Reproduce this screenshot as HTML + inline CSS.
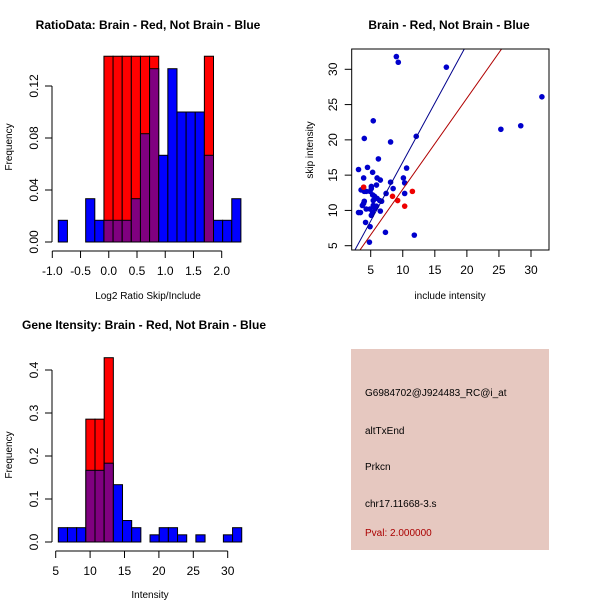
<!DOCTYPE html>
<html><head><meta charset="utf-8"><style>
html,body{margin:0;padding:0;background:#fff;}
svg{display:block;font-family:"Liberation Sans",Arial,sans-serif;}
</style></head><body>
<svg id="c" width="600" height="600" xmlns="http://www.w3.org/2000/svg">
<rect width="600" height="600" fill="#fff"/>
<text x="148" y="29" text-anchor="middle" font-size="12" font-weight="bold">RatioData: Brain - Red, Not Brain - Blue</text>
<text x="449" y="29" text-anchor="middle" font-size="12" font-weight="bold">Brain - Red, Not Brain - Blue</text>
<text x="144" y="329" text-anchor="middle" font-size="12" font-weight="bold">Gene Itensity: Brain - Red, Not Brain - Blue</text>
<text x="148" y="299" text-anchor="middle" font-size="10">Log2 Ratio Skip/Include</text>
<text x="150" y="598" text-anchor="middle" font-size="10">Intensity</text>
<text x="450" y="299" text-anchor="middle" font-size="10">include intensity</text>
<text transform="translate(12,147) rotate(-90)" text-anchor="middle" font-size="10">Frequency</text>
<text transform="translate(12,455) rotate(-90)" text-anchor="middle" font-size="10">Frequency</text>
<text transform="translate(313,150) rotate(-90)" text-anchor="middle" font-size="10">skip intensity</text>
<g>
<rect x="351" y="349" width="198" height="201" fill="#e6c8c0"/>
<text x="365" y="396" font-size="10">G6984702@J924483_RC@i_at</text>
<text x="365" y="434" font-size="10">altTxEnd</text>
<text x="365" y="470" font-size="10">Prkcn</text>
<text x="365" y="507" font-size="10">chr17.11668-3.s</text>
<text x="365" y="536" font-size="10" fill="#aa0000">Pval: 2.000000</text>
</g>
</svg>
<script>
// ---- Ratio histogram data ----
const ratioBinStart = -0.894;
const ratioBinWidth = 0.1617;
const ratioBlue = [0.0167,0,0,0.0333,0.0167,0.0167,0.0167,0.0167,0.0333,0.0833,0.1333,0.0667,0.1333,0.1,0.1,0.1,0.0667,0.0167,0.0167,0.0333];
const ratioRed  = [0,0,0,0,0,0.1429,0.1429,0.1429,0.1429,0.1429,0.1429,0,0,0,0,0,0.1429,0,0,0];
const ratioXTicks = [-1.0,-0.5,0.0,0.5,1.0,1.5,2.0];
const ratioXTickLabels = ["-1.0","-0.5","0.0","0.5","1.0","1.5","2.0"];
const ratioYTicks = [0,0.04,0.08,0.12];
const ratioYTickLabels = ["0.00","0.04","0.08","0.12"];
// ---- Intensity histogram data ----
const intBinStart = 5.38;
const intBinWidth = 1.333;
const intBlue = [0.0333,0.0333,0.0333,0.1667,0.1667,0.1833,0.1333,0.05,0.0333,0,0.0167,0.0333,0.0333,0.0167,0,0.0167,0,0,0.0167,0.0333];
const intRed  = [0,0,0,0.2857,0.2857,0.4286,0,0,0,0,0,0,0,0,0,0,0,0,0,0];
const intXTicks = [5,10,15,20,25,30];
const intXTickLabels = ["5","10","15","20","25","30"];
const intYTicks = [0,0.1,0.2,0.3,0.4];
const intYTickLabels = ["0.0","0.1","0.2","0.3","0.4"];
// ---- Scatter data ----
const blueX = [9.0,9.3,16.8,31.7,25.3,28.4,5.4,4.0,8.1,12.1,6.2,3.1,4.5,5.3,10.6,3.9,6.0,6.5,10.1,10.3,8.1,5.9,5.1,5.1,8.5,3.5,4.0,4.3,4.9,7.4,10.3,5.3,5.6,6.0,5.4,6.4,6.7,4.0,3.9,3.7,5.4,5.9,5.7,4.3,4.9,3.1,3.4,5.3,5.1,6.5,4.2,4.9,7.3,11.8,4.8];
const blueY = [31.8,31.0,30.3,26.1,21.5,22.0,22.7,20.2,19.7,20.5,17.3,15.8,16.1,15.4,16.0,14.6,14.6,14.3,14.6,13.9,14.0,13.6,13.4,13.1,13.1,12.9,12.7,12.7,12.7,12.4,12.4,12.2,12.0,11.7,11.4,11.4,11.3,11.3,11.0,10.7,10.7,10.6,10.3,10.2,10.2,9.7,9.7,9.7,9.3,9.9,8.3,7.7,6.9,6.5,5.5];
const redX = [3.9,8.4,9.2,11.5,10.3];
const redY = [13.3,12.0,11.4,12.7,10.6];
const blueFit = [0.15,1.67]; // intercept, slope
const redFit = [0.1,1.29];
const scatXTicks = [5,10,15,20,25,30];
const scatXTickLabels = ["5","10","15","20","25","30"];
const scatYTicks = [5,10,15,20,25,30];
const scatYTickLabels = ["5","10","15","20","25","30"];

const NS = "http://www.w3.org/2000/svg";
const svg = document.getElementById('c');
function mk(tag, attrs, parent){
  const e = document.createElementNS(NS, tag);
  for (const k in attrs) e.setAttribute(k, attrs[k]);
  (parent||svg).appendChild(e);
  return e;
}
function linear(d0,d1,r0,r1){ return v => r0 + (v-d0)/(d1-d0)*(r1-r0); }

function histogram(prefix, blue, red, start, width, sx, sy, xTicks, xLab, yTicks, yLab, axisY, axisX){
  const g = mk('g', {});
  
  
  for (let i = 0; i < blue.length; i++){
    const x0 = sx(start + i*width), x1 = sx(start + (i+1)*width);
    const b = blue[i], r = red[i];
    const hi = Math.max(b, r), lo = Math.min(b, r);
    if (hi <= 0) continue;
    const topColor = r > b ? '#ff0000' : '#0000ff';
    const bar = mk('rect', {x:x0, y:sy(hi), width:x1-x0, height:sy(0)-sy(hi), fill: topColor, stroke:'#000', 'stroke-width':1}, g);
    
    
    if (lo > 0){
      const p = mk('rect', {x:x0, y:sy(lo), width:x1-x0, height:sy(0)-sy(lo), fill:'#800080', stroke:'#000', 'stroke-width':1}, g);
      
      
    }
  }
  // y axis
  const ya = mk('g', {});
  
  
  mk('line', {x1:axisX, x2:axisX, y1:sy(yTicks[0]), y2:sy(yTicks[yTicks.length-1]), stroke:'#000'}, ya);
  yTicks.forEach((t,i)=>{
    mk('line', {x1:axisX-7, x2:axisX, y1:sy(t), y2:sy(t), stroke:'#000'}, ya);
    const tx = mk('text', {transform:`translate(${axisX-14},${sy(t)}) rotate(-90)`, 'text-anchor':'middle', 'font-size':12}, ya);
    
    
    tx.textContent = yLab[i];
  });
  const xa = mk('g', {});
  
  
  mk('line', {x1:sx(xTicks[0]), x2:sx(xTicks[xTicks.length-1]), y1:axisY, y2:axisY, stroke:'#000'}, xa);
  xTicks.forEach((t,i)=>{
    mk('line', {x1:sx(t), x2:sx(t), y1:axisY, y2:axisY+7, stroke:'#000'}, xa);
    const tx = mk('text', {x:sx(t), y:axisY+24, 'text-anchor':'middle', 'font-size':12}, xa);
    
    
    tx.textContent = xLab[i];
  });
}

histogram('ratio', ratioBlue, ratioRed, ratioBinStart, ratioBinWidth,
  linear(-1, 2, 52.3, 221.7), linear(0, 0.12, 242, 86),
  ratioXTicks, ratioXTickLabels, ratioYTicks, ratioYTickLabels, 251, 52);
histogram('intensity', intBlue, intRed, intBinStart, intBinWidth,
  linear(5, 30, 55.7, 227.7), linear(0, 0.4, 542, 370),
  intXTicks, intXTickLabels, intYTicks, intYTickLabels, 551, 52);

// scatter
const sx = linear(5, 30, 370.7, 531);
const sy = linear(5, 30, 245.7, 69.3);
const sg = mk('g', {});


mk('defs', {}, sg).innerHTML = '<clipPath id="clipS"><rect x="351.7" y="49" width="197.3" height="201"/></clipPath>';
const pts = mk('g', {'clip-path':'url(#clipS)'}, sg);
blueX.forEach((x,i)=>{
  const c = mk('circle', {cx:sx(x), cy:sy(blueY[i]), r:2.8, fill:'#0000cc'}, pts);
  
  
});
redX.forEach((x,i)=>{
  const c = mk('circle', {cx:sx(x), cy:sy(redY[i]), r:2.8, fill:'#ee0000'}, pts);
  
  
});
[[blueFit,'#00008b','blue-fit-line'],[redFit,'#b00000','red-fit-line']].forEach(([f,col,nm])=>{
  const l = mk('line', {x1:sx(0), y1:sy(f[0]), x2:sx(40), y2:sy(f[0]+f[1]*40), stroke:col, 'stroke-width':1}, pts);
  
  
});
const box = mk('rect', {x:351.7, y:49, width:197.3, height:201, fill:'none', stroke:'#000'}, sg);


scatXTicks.forEach((t,i)=>{
  mk('line', {x1:sx(t), x2:sx(t), y1:250, y2:257, stroke:'#000'}, sg);
  const tx = mk('text', {x:sx(t), y:274, 'text-anchor':'middle', 'font-size':12}, sg);
  
  
  tx.textContent = scatXTickLabels[i];
});
scatYTicks.forEach((t,i)=>{
  mk('line', {x1:344.7, x2:351.7, y1:sy(t), y2:sy(t), stroke:'#000'}, sg);
  const tx = mk('text', {transform:`translate(${337},${sy(t)}) rotate(-90)`, 'text-anchor':'middle', 'font-size':12}, sg);
  
  
  tx.textContent = scatYTickLabels[i];
});
</script>
</body></html>
